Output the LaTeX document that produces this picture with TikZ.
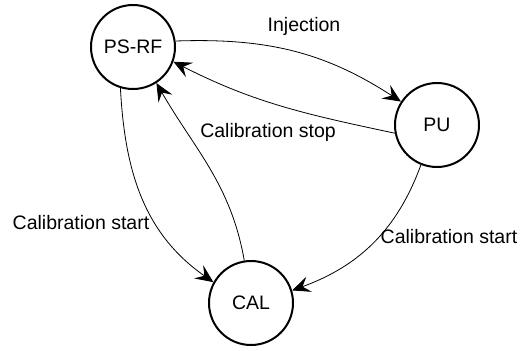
\documentclass[tikz,border=0pt]{standalone}
\usepackage{fontspec}
\setmainfont{Liberation Sans}
\usetikzlibrary{arrows.meta}
\begin{document}
\begin{tikzpicture}[x=1pt,y=-1pt,
  state/.style={circle,draw,line width=2pt,minimum size=84pt,inner sep=0pt,font=\fontsize{19.5}{23}\selectfont},
  lbl/.style={font=\fontsize{19.5}{23}\selectfont,inner sep=0pt},
  conn/.style={line width=0.8pt,-{Stealth[length=18pt,width=16pt,inset=7pt]}}]
\useasboundingbox (0,0) rectangle (529,350);
\node[state] (psrf) at (133,47) {PS-RF};
\node[state] (pu) at (437,125) {PU};
\node[state] (cal) at (251,303) {CAL};
\draw[conn] (psrf.8) to[out=2,in=147] (pu.147);
\draw[conn] (pu.191) to[out=168,in=-27] (psrf.-20);
\draw[conn] (cal.99) to[out=100,in=-60] (psrf.-57);
\draw[conn] (psrf.-107) to[out=-87,in=145] (cal.151);
\draw[conn] (pu.-112) to[out=-110,in=20] (cal.17);
\node[lbl] (l1) at (304,26) {Injection};
\node[lbl] (l2) at (268,132) {Calibration stop};
\node[lbl] (l3) at (81,223) {Calibration start};
\node[lbl] (l4) at (449,237) {Calibration start};
\end{tikzpicture}
\end{document}
